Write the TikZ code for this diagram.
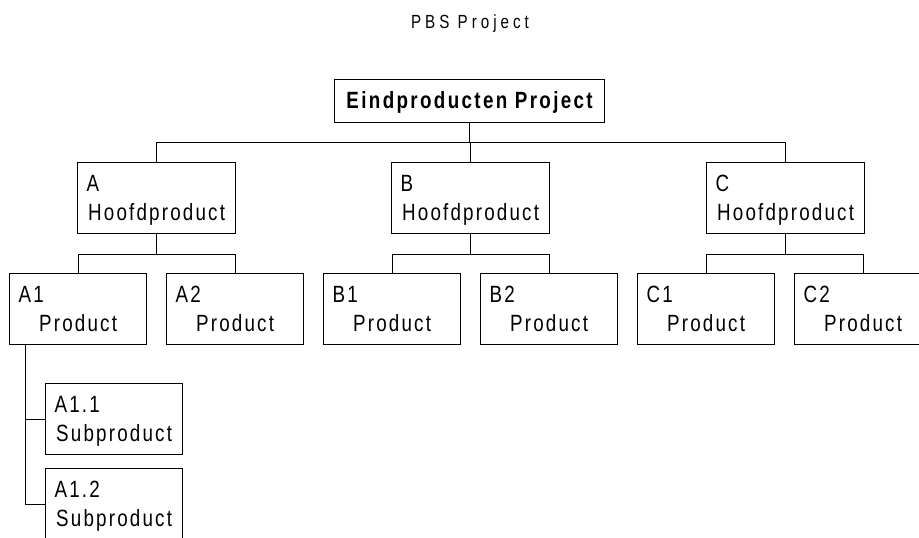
\documentclass[tikz,border=0pt]{standalone}
\usepackage{fontspec}
\newfontfamily\boxfontfam[FakeStretch=0.8, LetterSpace=9.3]{Liberation Sans}
\newfontfamily\boldfontfam[FakeStretch=0.8, LetterSpace=10]{Liberation Sans Bold}
\newfontfamily\titlefontfam[FakeStretch=0.8, LetterSpace=21]{Liberation Sans}
\newcommand\boxfnt{\boxfontfam\fontsize{23.5}{28}\selectfont}
\newcommand\boldfnt{\boldfontfam\fontsize{23.5}{28}\selectfont}
\newcommand\titlefnt{\titlefontfam\fontsize{19}{22}\selectfont}
\newcommand\twoline[3]{\vbox to 71pt{\offinterlineskip\hsize=#1\relax
  \vskip29pt
  \hbox to\hsize{\hskip9pt\smash{#2}\hfil}%
  \vskip28.5pt
  \hbox to\hsize{\hfil\smash{#3}\hfil}%
  \vfil}}
\tikzset{
  pbsbox/.style={draw, line width=1.2pt, inner sep=0pt, anchor=north west, font=\boxfnt},
  conn/.style={line width=1pt}
}
\begin{document}
\begin{tikzpicture}[x=1pt,y=-1pt]
\useasboundingbox (0,0) rectangle (919,538);
\clip (0,0) rectangle (919,538);
\fill[white] (0,0) rectangle (919,538);

\node[font=\titlefnt, anchor=base] (title) at (470,28) {PBS Project};

\node[draw, line width=1.2pt, inner sep=0pt, anchor=north west, minimum width=270pt, minimum height=43pt,
      text height=15pt, text depth=0pt, font=\boldfnt] (top) at (334,79) {Eindproducten Project};

\node[pbsbox] (A) at (77,162) {\twoline{158pt}{A}{Hoofdproduct}};
\node[pbsbox] (B) at (391,162) {\twoline{158pt}{B}{Hoofdproduct}};
\node[pbsbox] (C) at (706,162) {\twoline{158pt}{C}{Hoofdproduct}};

\node[pbsbox] (A1) at (9,273) {\twoline{137pt}{A1}{Product}};
\node[pbsbox] (A2) at (166,273) {\twoline{137pt}{A2}{Product}};
\node[pbsbox] (B1) at (323,273) {\twoline{137pt}{B1}{Product}};
\node[pbsbox] (B2) at (480,273) {\twoline{137pt}{B2}{Product}};
\node[pbsbox] (C1) at (637,273) {\twoline{137pt}{C1}{Product}};
\node[pbsbox] (C2) at (794,273) {\twoline{137pt}{C2}{Product}};

\node[pbsbox] (A11) at (45,383) {\twoline{137pt}{A1.1}{Subproduct}};
\node[pbsbox] (A12) at (45,468) {\twoline{137pt}{A1.2}{Subproduct}};

\coordinate (bus0) at (0,142);
\coordinate (busA) at (0,254);
\coordinate (trunk) at (25,0);

\draw[conn] (top.south) -- (top.south |- bus0);
\draw[conn] (A.north) |- (C.north |- bus0) -- (C.north);
\draw[conn] (B.north) -- (B.north |- bus0);

\draw[conn] (A.south) -- (A.south |- busA);
\draw[conn] (A1.north) |- (A2.north |- busA) -- (A2.north);
\draw[conn] (B.south) -- (B.south |- busA);
\draw[conn] (B1.north) |- (B2.north |- busA) -- (B2.north);
\draw[conn] (C.south) -- (C.south |- busA);
\draw[conn] (C1.north) |- (C2.north |- busA) -- (C2.north);

\draw[conn] (A1.south -| trunk) |- (A12.west);
\draw[conn] (trunk |- A11.west) -- (A11.west);
\end{tikzpicture}
\end{document}
